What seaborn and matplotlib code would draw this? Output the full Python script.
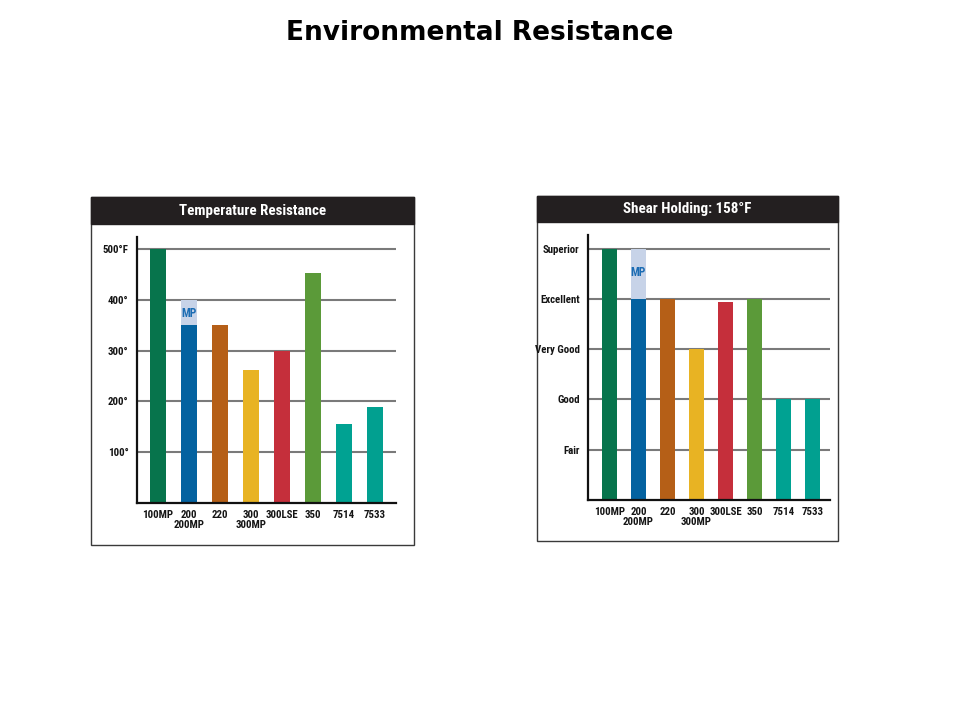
import matplotlib
matplotlib.use("Agg")
import matplotlib.pyplot as plt
from matplotlib.patches import Rectangle
import seaborn as sns
import numpy as np
import pandas as pd

# ---- data ----
products = ["100MP", "200\n200MP", "220", "300\n300MP", "300LSE", "350", "7514", "7533"]
temp_values = [500, 350, 350, 262, 300, 453, 156, 189]
temp_mp_cap = [np.nan, 400, np.nan, np.nan, np.nan, np.nan, np.nan, np.nan]
temp_ticks = [100, 200, 300, 400, 500]
temp_ticklabels = ["100°", "200°", "300°", "400°", "500°F"]

shear_values = [5, 4, 4, 3, 3.93, 4, 2, 2]
shear_mp_cap = [np.nan, 5, np.nan, np.nan, np.nan, np.nan, np.nan, np.nan]
shear_ticks = [1, 2, 3, 4, 5]
shear_ticklabels = ["Fair", "Good", "Very Good", "Excellent", "Superior"]

bar_colors = ["#07744c", "#0462a0", "#b55f17", "#e8b323", "#c52f3b", "#5b9a39", "#00a292", "#01a090"]
mp_color = "#c7d3e8"
mp_text_color = "#1b6cb3"

sns.set_theme(style="white")
plt.rcParams["font.family"] = ["Liberation Sans Narrow", "Roboto Condensed", "DejaVu Sans"]
plt.rcParams["font.stretch"] = "condensed"

fig = plt.figure(figsize=(9.6, 7.2), dpi=100)
W, H = 960, 720

def fx(x):
    return x / W

def fy(y):
    return 1 - y / H

# Title
fig.text(0.5, fy(33.5), "Environmental Resistance", ha="center", va="center",
         fontsize=19, fontweight="bold", family="DejaVu Sans", fontstretch="normal",
         color="black")

def panel(box, header_h, title, axrect, values, caps, ticks, ticklabels, ylim, xlim, mp_y):
    x0, y0, x1, y1 = box
    # outer box
    fig.patches.append(Rectangle((fx(x0), fy(y1)), fx(x1 - x0), (y1 - y0) / H,
                                 transform=fig.transFigure, facecolor="white",
                                 edgecolor="#3a3a3a", linewidth=1.0, zorder=-5))
    fig.patches.append(Rectangle((fx(x0), fy(y0 + header_h)), fx(x1 - x0), header_h / H,
                                 transform=fig.transFigure, facecolor="#231f20",
                                 edgecolor="#231f20", linewidth=1.0, zorder=-4))
    fig.text(fx((x0 + x1) / 2), fy(y0 + header_h / 2 + 0.5), title, ha="center", va="center",
             color="white", fontsize=10.8, fontweight="bold")
    ax_l, ax_t, ax_r, ax_b = axrect
    ax = fig.add_axes([fx(ax_l), fy(ax_b), fx(ax_r - ax_l), (ax_b - ax_t) / H])
    ax.set_facecolor("none")
    df_cap = pd.DataFrame({"product": products, "value": caps})
    df = pd.DataFrame({"product": products, "value": values})
    sns.barplot(data=df_cap, x="product", y="value", color=mp_color, width=0.52,
                order=products, ax=ax, saturation=1, zorder=3, linewidth=0)
    sns.barplot(data=df, x="product", y="value", hue="product", palette=bar_colors,
                width=0.52, order=products, hue_order=products, legend=False,
                ax=ax, saturation=1, zorder=4, linewidth=0)
    ax.set_ylim(*ylim)
    ax.set_xlim(*xlim)
    ax.set_yticks(ticks)
    ax.set_yticklabels(ticklabels)
    ax.yaxis.grid(True, color="#7a7a7a", linewidth=1.5, zorder=1)
    ax.set_axisbelow(True)
    ax.set_xlabel("")
    ax.set_ylabel("")
    for s in ["top", "right"]:
        ax.spines[s].set_visible(False)
    for s in ["left", "bottom"]:
        ax.spines[s].set_color("#111111")
        ax.spines[s].set_linewidth(1.6)
        ax.spines[s].set_zorder(6)
    ax.tick_params(axis="both", length=0, labelsize=7.8, colors="#151515")
    ax.tick_params(axis="y", pad=6)
    ax.tick_params(axis="x", pad=5)
    for lab in ax.get_xticklabels() + ax.get_yticklabels():
        lab.set_fontweight("bold")
        lab.set_linespacing(1.0)
    ax.text(1, mp_y, "MP", ha="center", va="center", color=mp_text_color,
            fontsize=8.5, fontweight="bold", zorder=7)
    return ax

panel((91, 197, 414, 545), 27, "Temperature Resistance",
      (137, 237, 396, 503), temp_values, temp_mp_cap, temp_ticks, temp_ticklabels,
      (0, 524), (-0.68, 7.68), 373)

panel((537, 196, 838, 541), 26, "Shear Holding: 158°F",
      (588, 235, 830, 500), shear_values, shear_mp_cap, shear_ticks, shear_ticklabels,
      (0, 5.27), (-0.74, 7.6), 4.53)

fig.savefig("out.png", dpi=100)
